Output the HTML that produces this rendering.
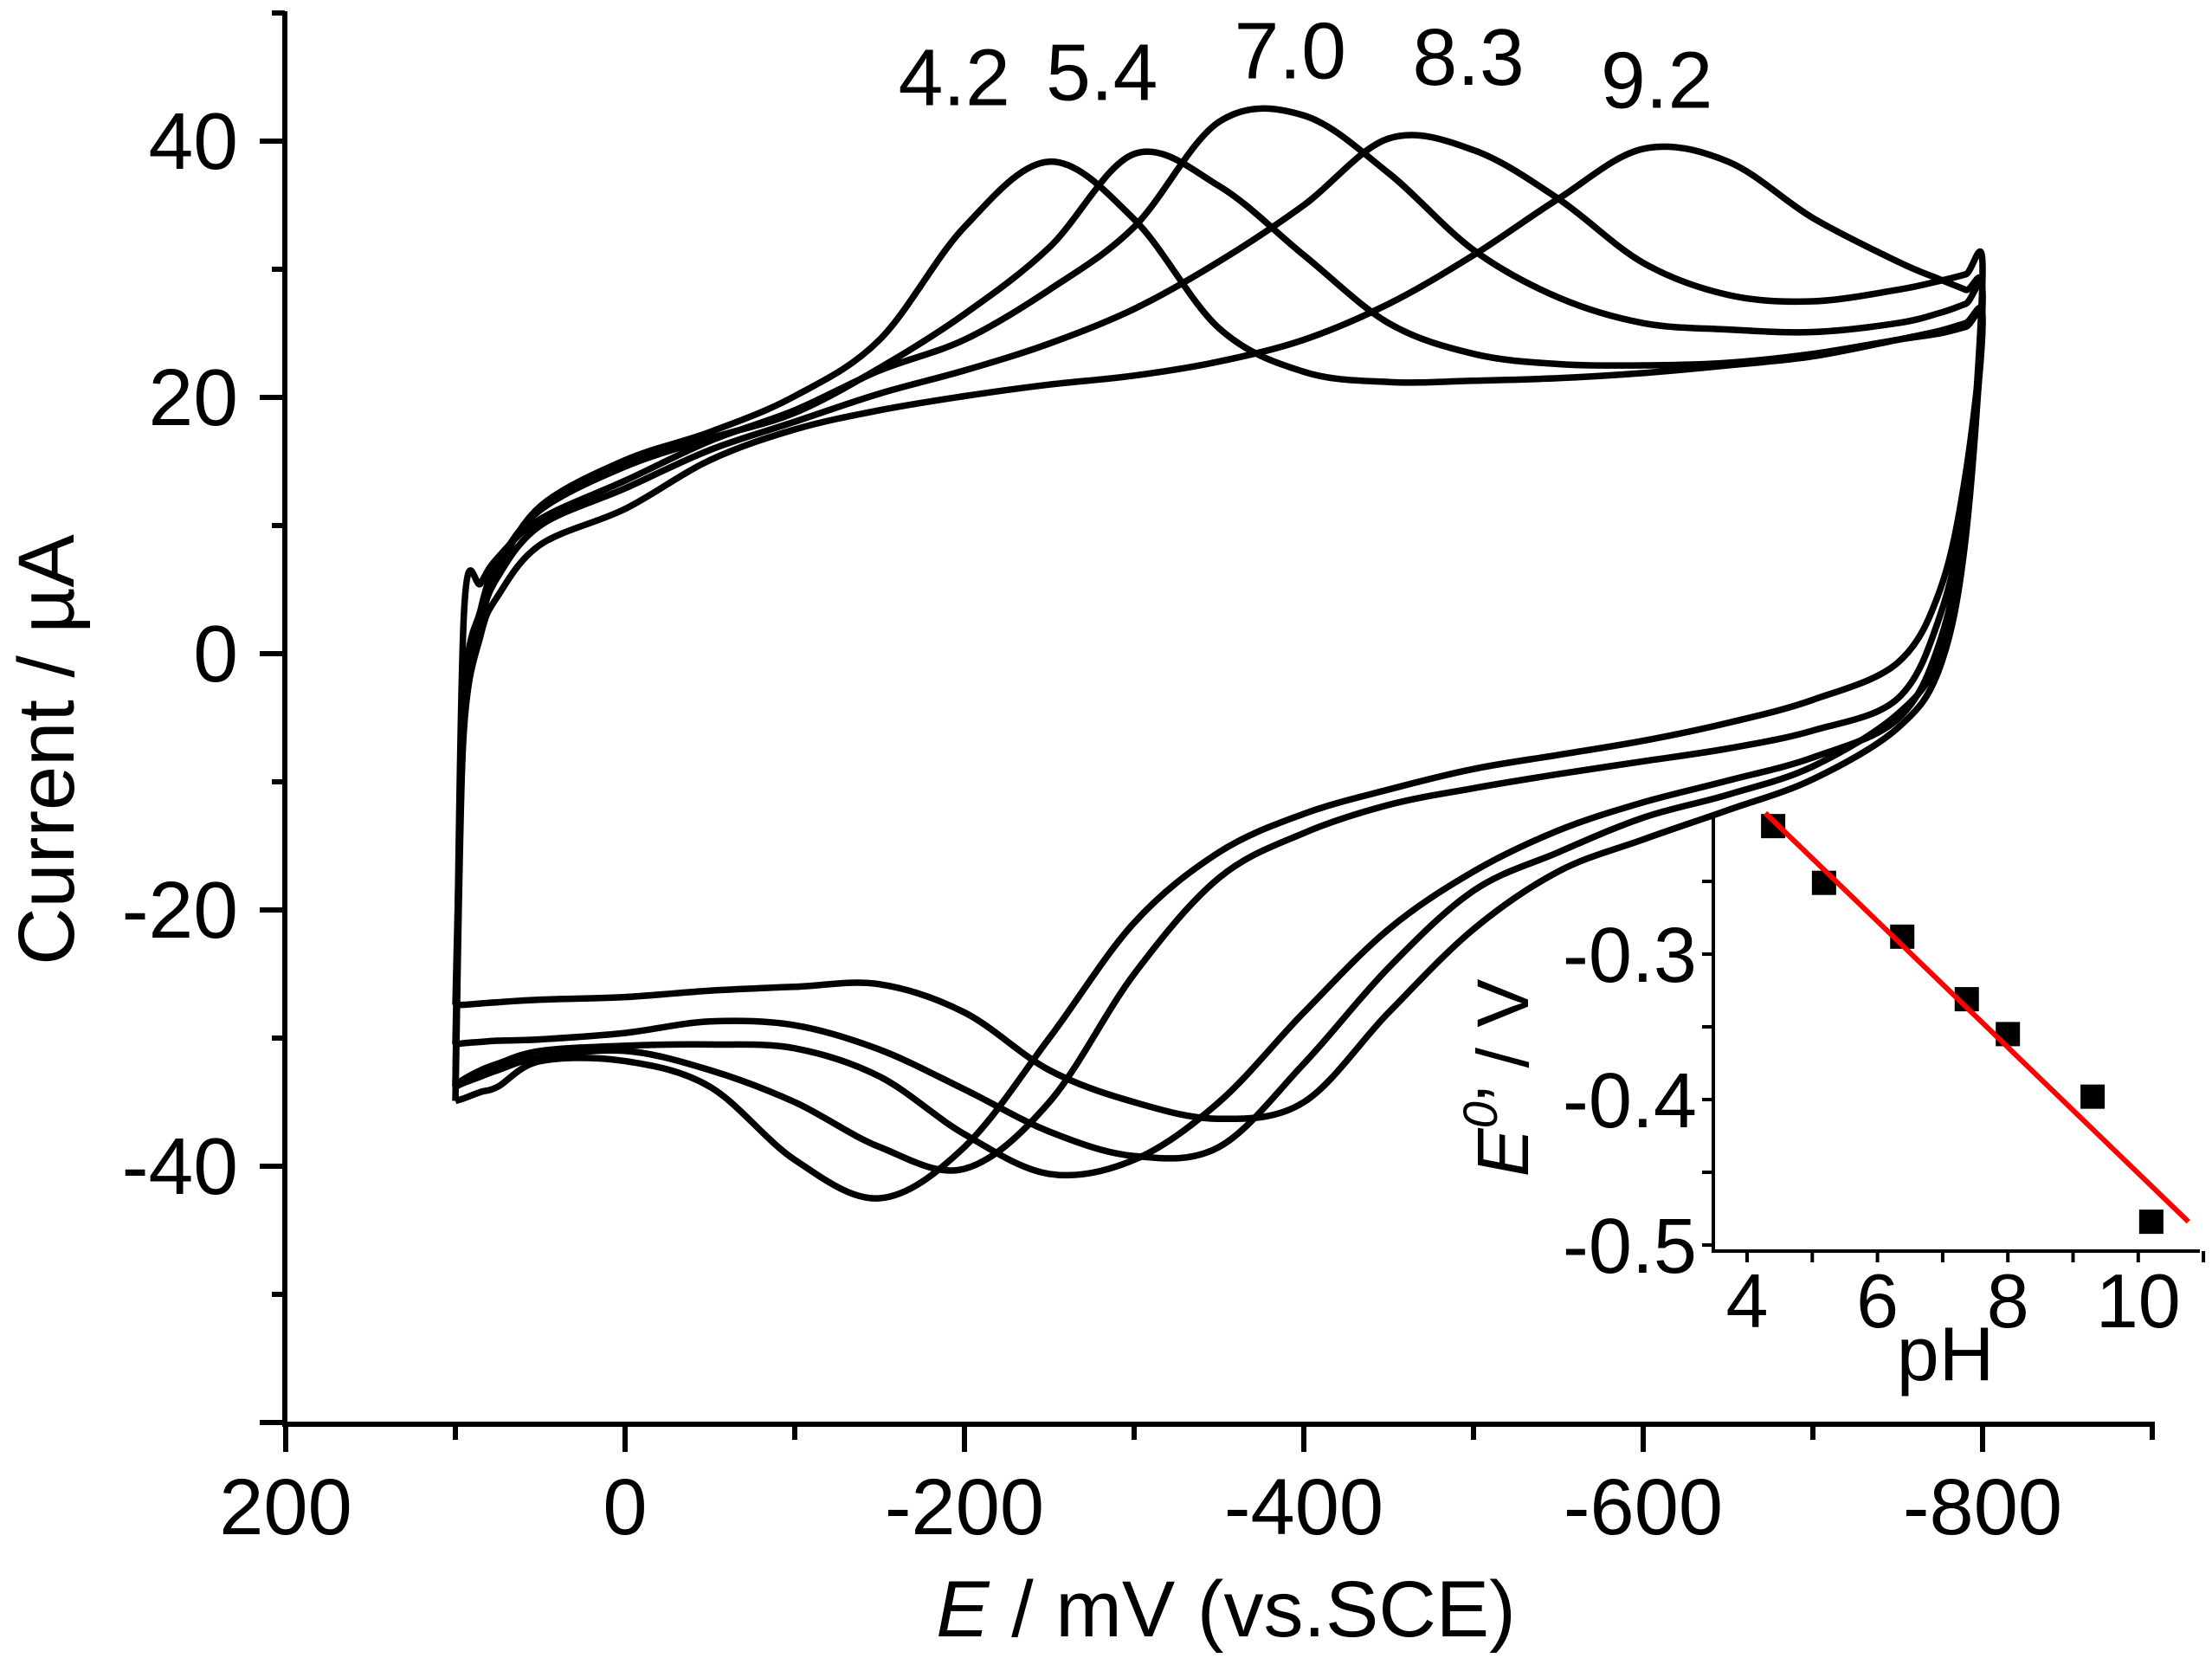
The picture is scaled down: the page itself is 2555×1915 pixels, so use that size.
<!DOCTYPE html>
<html><head><meta charset="utf-8">
<style>
html,body{margin:0;padding:0;background:#fff;}
svg{display:block;font-family:"Liberation Sans",sans-serif;}
</style></head>
<body>
<svg id="chart" width="2555" height="1915" viewBox="0 0 2555 1915" xmlns="http://www.w3.org/2000/svg">
<rect width="2555" height="1915" fill="#fff"/>
<g id="curves"></g>
<g id="axes"></g>
<g id="inset"></g>
<text x="85" y="866" font-size="92" text-anchor="middle" transform="rotate(-90 85 866)">Current / µA</text>
<text x="1416" y="1890" font-size="92" text-anchor="middle"><tspan font-style="italic">E</tspan> / mV (vs.SCE)</text>
</svg>
<script>
// ---- main CV data (E in mV, current in µA) ----
const potentials = [100,95,85,75,50,0,-50,-100,-150,-200,-250,-300,-350,-400,-450,-500,-550,-600,-650,-700,-750,-775,-790,-800];
const phLabels = ["4.2","5.4","7.0","8.3","9.2"];
// forward (upper) branch, +100 -> -800
const upper42 = [-34.9,-5,3,6.5,11.5,15.1,17.3,20.1,24.5,33.3,38.4,33.9,25.4,22.0,21.2,21.3,21.5,21.9,22.5,23.2,24.5,25.2,25.8,26.2];
const upper54 = [-33.8,-4,3.5,7,11.2,14.6,16.8,18.8,22.3,26.5,31.7,39.0,36.5,31.1,25.8,23.4,22.6,22.5,22.7,23.4,24.5,25.0,25.5,25.8];
const upper70 = [-33.7,3,5.5,7.5,10.5,13.5,16.6,19.0,22.1,24.5,28.4,33.3,41.5,42.0,37.5,31.5,27.8,25.8,25.3,25.1,25.8,26.6,27.3,27.8];
const upper83 = [-30.5,-5,2.5,6,10,12.9,15.9,18.1,20.3,22.1,24.2,26.9,30.6,35.0,40.2,39.3,35.5,30.5,28.0,27.5,28.4,29.1,29.6,30.0];
const upper92 = [-27.4,-6,1.5,4.5,8.5,11.3,15.1,17.5,19.0,20.1,21.0,21.7,22.8,24.5,27.3,31.1,35.5,39.4,38.4,34.0,30.6,29.2,28.4,27.8];
// reverse (lower) branch, values at the same potentials (drawn from -800 back to +100)
const lower42 = [-34.9,-34.7,-34.2,-33.8,-31.8,-31.8,-33.8,-39.5,-42.5,-38.5,-30.0,-21.0,-15.5,-12.5,-10.6,-9.0,-7.9,-6.8,-5.4,-3.6,-0.7,5,14,26.2];
const lower54 = [-33.8,-33.5,-33.0,-32.5,-31.5,-31.0,-32.5,-35.0,-38.5,-40.2,-35.0,-25.0,-17.5,-14.0,-11.8,-10.5,-9.4,-8.4,-7.4,-6.0,-3.5,3,12,25.8];
const lower70 = [-33.7,-33.2,-32.5,-32.0,-31.0,-30.6,-30.5,-30.8,-33.0,-37.5,-40.6,-39.5,-35.0,-28.0,-21.5,-17.0,-13.8,-11.6,-9.9,-8.1,-5.1,1,11,27.8];
const lower83 = [-30.5,-30.4,-30.3,-30.2,-30.1,-29.6,-28.7,-29.0,-30.9,-34.0,-37.3,-39.2,-38.5,-32.0,-24.5,-18.5,-15.5,-12.8,-11.0,-8.8,-4.7,0,10,30.0];
const lower92 = [-27.4,-27.4,-27.3,-27.2,-27.0,-26.8,-26.3,-26.0,-25.8,-28.0,-32.5,-35.0,-36.3,-35.0,-28.0,-21.5,-17.0,-14.5,-12.2,-9.8,-5.8,-1,9,27.8];
const upperSeries = [upper42,upper54,upper70,upper83,upper92];
const lowerSeries = [lower42,lower54,lower70,lower83,lower92];
const xTickValues = [200,0,-200,-400,-600,-800];
const xTickLabels = ["200","0","-200","-400","-600","-800"];
const yTickValues = [40,20,0,-20,-40];
const yTickLabels = ["40","20","0","-20","-40"];
// label anchor positions in data units (E mV, I µA)
const labelE = [-194,-281,-392,-497,-608];
const labelI = [42.8,43.2,44.9,44.4,42.6];

// ---- inset data ----
const insetPH = [4.4,5.18,6.38,7.37,8.0,9.3,10.2];
const insetE0 = [-0.212,-0.251,-0.288,-0.331,-0.355,-0.398,-0.484];
const fitPH = [4.28,10.77];
const fitE0 = [-0.203,-0.484];
const insetXTicks = [4,6,8,10];
const insetXTickLabels = ["4","6","8","10"];
const insetYTicks = [-0.3,-0.4,-0.5];
const insetYTickLabels = ["-0.3","-0.4","-0.5"];

const NS = "http://www.w3.org/2000/svg";
function X(e){return 722 - 1.96*e;}
function Y(i){return 755 - 14.8*i;}
function PX(p){return 2018 + (p-4)*75.3;}
function PY(v){return 1102 - (v+0.3)*1680;}
function mk(tag, attrs, parent){const el=document.createElementNS(NS,tag);for(const k in attrs)el.setAttribute(k,attrs[k]);parent.appendChild(el);return el;}
function smooth(pts){
  let d="M"+pts[0][0].toFixed(1)+","+pts[0][1].toFixed(1);
  for(let i=0;i<pts.length-1;i++){
    const p0=pts[i-1]||pts[i],p1=pts[i],p2=pts[i+1],p3=pts[i+2]||p2;
    const c1=[p1[0]+(p2[0]-p0[0])/6,p1[1]+(p2[1]-p0[1])/6];
    const c2=[p2[0]-(p3[0]-p1[0])/6,p2[1]-(p3[1]-p1[1])/6];
    d+="C"+c1[0].toFixed(1)+","+c1[1].toFixed(1)+" "+c2[0].toFixed(1)+","+c2[1].toFixed(1)+" "+p2[0].toFixed(1)+","+p2[1].toFixed(1);
  }
  return d;
}
const curves=document.getElementById("curves");
for(let s=0;s<upperSeries.length;s++){
  const pts=[];
  for(let i=0;i<potentials.length;i++)pts.push([X(potentials[i]),Y(upperSeries[s][i])]);
  for(let i=potentials.length-2;i>=0;i--)pts.push([X(potentials[i]),Y(lowerSeries[s][i])]);
  const p=mk("path",{d:smooth(pts),fill:"none",stroke:"#000","stroke-width":7.5,"stroke-linejoin":"round"},curves);
  
  
  const t=mk("text",{x:X(labelE[s]),y:Y(labelI[s]),"font-size":93,"text-anchor":"middle"},curves);
  t.textContent=phLabels[s];
  
  
}
const axes=document.getElementById("axes");
let el=mk("line",{x1:329,y1:13,x2:329,y2:1648,stroke:"#000","stroke-width":6},axes);


el=mk("line",{x1:326,y1:1645,x2:2489,y2:1645,stroke:"#000","stroke-width":6},axes);


for(let v=50;v>=-60;v-=10){
  const major=(v%20===0);
  el=mk("line",{x1:329-(major?29:15),y1:Y(v),x2:329,y2:Y(v),stroke:"#000","stroke-width":6},axes);
  
  
}
for(let i=0;i<yTickValues.length;i++){
  el=mk("text",{x:275,y:Y(yTickValues[i])+32,"font-size":93,"text-anchor":"end"},axes);
  el.textContent=yTickLabels[i];
  
  
}
for(let v=200;v>=-900;v-=100){
  const major=(v%200===0);
  el=mk("line",{x1:X(v),y1:1645,x2:X(v),y2:1645+(major?32:18),stroke:"#000","stroke-width":6},axes);
  
  
}
for(let i=0;i<xTickValues.length;i++){
  el=mk("text",{x:X(xTickValues[i]),y:1772,"font-size":92,"text-anchor":"middle"},axes);
  el.textContent=xTickLabels[i];
  
  
}
// inset
const inset=document.getElementById("inset");
el=mk("line",{x1:1979,y1:941,x2:1979,y2:1446,stroke:"#000","stroke-width":4},inset);


el=mk("line",{x1:1977,y1:1445,x2:2541,y2:1445,stroke:"#000","stroke-width":4},inset);


for(let v=-0.25;v>=-0.501;v-=0.05){
  el=mk("line",{x1:1966,y1:PY(v),x2:1979,y2:PY(v),stroke:"#000","stroke-width":4},inset);
  
  
}
for(let p=4;p<=11;p++){
  el=mk("line",{x1:PX(p),y1:1445,x2:PX(p),y2:1458,stroke:"#000","stroke-width":4},inset);
  
  
}
for(let i=0;i<insetYTicks.length;i++){
  el=mk("text",{x:1960,y:PY(insetYTicks[i])+32,"font-size":90,"text-anchor":"end"},inset);
  el.textContent=insetYTickLabels[i];
  
  
}
for(let i=0;i<insetXTicks.length;i++){
  el=mk("text",{x:PX(insetXTicks[i]),y:1533,"font-size":88,"text-anchor":"middle"},inset);
  el.textContent=insetXTickLabels[i];
  
  
}
el=mk("text",{x:2247,y:1594,"font-size":88,"text-anchor":"middle"},inset);
el.textContent="pH";


el=mk("text",{x:1765,y:1245,"font-size":84,"text-anchor":"middle",transform:"rotate(-90 1765 1245)"},inset);
el.innerHTML='<tspan font-style="italic">E</tspan><tspan font-style="italic" font-size="56" dy="-36">0</tspan><tspan dy="36">\u2019 / V</tspan>';


for(let i=0;i<insetPH.length;i++){
  el=mk("rect",{x:PX(insetPH[i])-14,y:PY(insetE0[i])-14,width:28,height:28,fill:"#000"},inset);
  
  
}
el=mk("line",{x1:PX(fitPH[0]),y1:PY(fitE0[0]),x2:PX(fitPH[1]),y2:PY(fitE0[1]),stroke:"#ff0000","stroke-width":6},inset);


</script>
</body></html>
